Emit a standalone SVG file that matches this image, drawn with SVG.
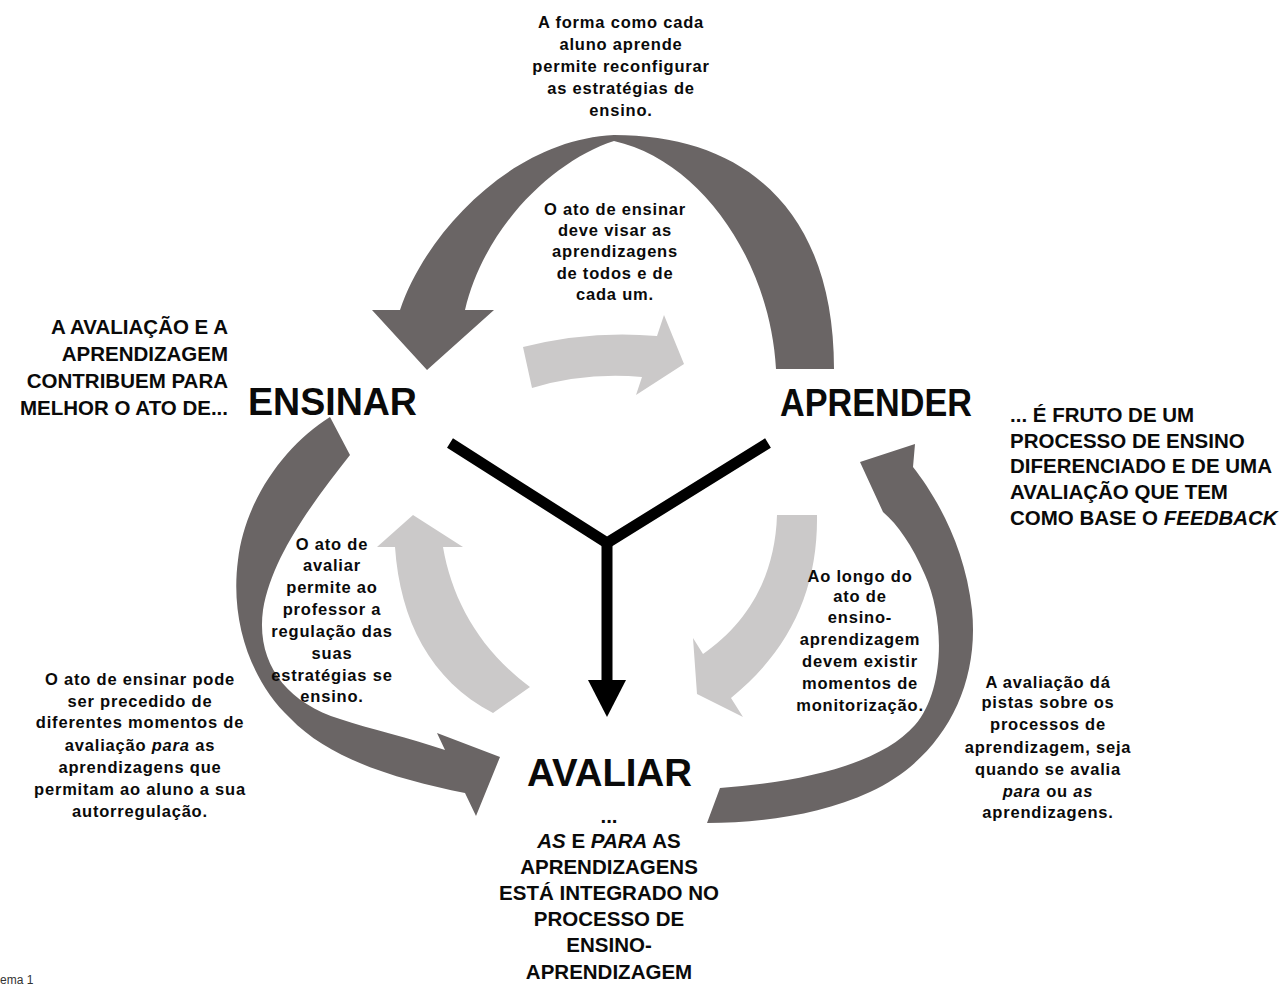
<svg xmlns="http://www.w3.org/2000/svg" width="1287" height="988" viewBox="0 0 1287 988">
<style>
.t{font-family:"Liberation Sans",Arial,sans-serif;font-weight:bold;font-size:16.5px;letter-spacing:0.8px;fill:#0a0a0a;text-anchor:middle}
.c{font-family:"Liberation Sans",Arial,sans-serif;font-weight:bold;font-size:20.5px;fill:#0a0a0a}
.big{font-family:"Liberation Sans",Arial,sans-serif;font-weight:bold;font-size:39px;fill:#0a0a0a}
.dark{fill:#6a6565}
.light{fill:#cbc9c9}
.i{font-style:italic}
</style>
<rect width="1287" height="988" fill="#fff"/>
<g id="connectors">
  <path class="dark" d="M834,369 L776,369 C770,260 700,160 614,141 C555,160 485,225 465,310 L494,310 L427,370 L372,310 L400,310 C425,235 510,140 614,135 C745,135 834,210 834,369 Z"/>
  <path class="dark" d="M330,417 L350,455 C315,500 272,555 263,610 C256,662 285,702 340,719 C370,729 410,738 445,750 L437,733 L500,757 L476,816 L465,793 C400,780 330,760 290,718 C250,680 230,620 238,560 C245,500 285,445 330,417 Z"/>
  <path class="dark" d="M707,823 L720,788 C800,782 880,765 915,725 C945,690 945,620 925,575 C912,545 898,525 883,512 L860,462 L915,444 L913,467 C935,495 965,545 972,610 C980,690 940,760 870,792 C820,815 760,823 707,823 Z"/>
  <path class="light" d="M523,347 Q590,330 657,336 L664,315 L684,364 L636,395 L642,377 Q585,372 532,388 Z"/>
  <path class="light" d="M395,547 L377,547 L413,515 L463,547 L443,547 C452,600 480,650 530,687 L493,713 C430,680 400,620 395,547 Z"/>
  <path class="light" d="M777,515 L817,515 C818,590 790,650 731,698 L743,717 L697,694 L693,638 L703,654 C745,625 775,580 777,515 Z"/>
  <g stroke="#000" stroke-width="11" fill="none" stroke-linejoin="miter">
    <polyline points="450,443 607,543 768,443"/>
    <line x1="607" y1="543" x2="607" y2="682"/>
  </g>
  <polygon points="588,680 626,680 607,717" fill="#000"/>
</g>
<g id="node-ensinar"><text class="big" x="248" y="415" textLength="169" lengthAdjust="spacingAndGlyphs">ENSINAR</text></g>
<g id="node-aprender"><text class="big" x="780" y="416" textLength="192" lengthAdjust="spacingAndGlyphs">APRENDER</text></g>
<g id="node-avaliar"><text class="big" x="527" y="786" textLength="165" lengthAdjust="spacingAndGlyphs">AVALIAR</text></g>
<g id="note-top">
  <text class="t" x="621" y="28">A forma como cada</text>
  <text class="t" x="621" y="50">aluno aprende</text>
  <text class="t" x="621" y="72">permite reconfigurar</text>
  <text class="t" x="621" y="94">as estratégias de</text>
  <text class="t" x="621" y="116">ensino.</text>
</g>
<g id="note-ensinar-aprender">
  <text class="t" x="615" y="215">O ato de ensinar</text>
  <text class="t" x="615" y="236">deve visar as</text>
  <text class="t" x="615" y="257">aprendizagens</text>
  <text class="t" x="615" y="279">de todos e de</text>
  <text class="t" x="615" y="300">cada um.</text>
</g>
<g id="note-left-caps">
  <text class="c" x="228" y="334" text-anchor="end">A AVALIAÇÃO E A</text>
  <text class="c" x="228" y="361" text-anchor="end">APRENDIZAGEM</text>
  <text class="c" x="228" y="388" text-anchor="end">CONTRIBUEM PARA</text>
  <text class="c" x="228" y="415" text-anchor="end">MELHOR O ATO DE...</text>
</g>
<g id="note-right-caps">
  <text class="c" x="1010" y="422">... É FRUTO DE UM</text>
  <text class="c" x="1010" y="448">PROCESSO DE ENSINO</text>
  <text class="c" x="1010" y="473">DIFERENCIADO E DE UMA</text>
  <text class="c" x="1010" y="499">AVALIAÇÃO QUE TEM</text>
  <text class="c" x="1010" y="525">COMO BASE O <tspan class="i">FEEDBACK</tspan></text>
</g>
<g id="note-avaliar-ensinar">
  <text class="t" x="332" y="550">O ato de</text>
  <text class="t" x="332" y="571">avaliar</text>
  <text class="t" x="332" y="593">permite ao</text>
  <text class="t" x="332" y="615">professor a</text>
  <text class="t" x="332" y="637">regulação das</text>
  <text class="t" x="332" y="659">suas</text>
  <text class="t" x="332" y="681">estratégias se</text>
  <text class="t" x="332" y="702">ensino.</text>
</g>
<g id="note-aprender-avaliar">
  <text class="t" x="860" y="582">Ao longo do</text>
  <text class="t" x="860" y="602">ato de</text>
  <text class="t" x="860" y="623">ensino-</text>
  <text class="t" x="860" y="645">aprendizagem</text>
  <text class="t" x="860" y="667">devem existir</text>
  <text class="t" x="860" y="689">momentos de</text>
  <text class="t" x="860" y="711">monitorização.</text>
</g>
<g id="note-left-bottom">
  <text class="t" x="140" y="685">O ato de ensinar pode</text>
  <text class="t" x="140" y="707">ser precedido de</text>
  <text class="t" x="140" y="728">diferentes momentos de</text>
  <text class="t" x="140" y="751">avaliação <tspan class="i">para</tspan> as</text>
  <text class="t" x="140" y="773">aprendizagens que</text>
  <text class="t" x="140" y="795">permitam ao aluno a sua</text>
  <text class="t" x="140" y="817">autorregulação.</text>
</g>
<g id="note-right-bottom">
  <text class="t" x="1048" y="688">A avaliação dá</text>
  <text class="t" x="1048" y="708">pistas sobre os</text>
  <text class="t" x="1048" y="730">processos de</text>
  <text class="t" x="1048" y="753">aprendizagem, seja</text>
  <text class="t" x="1048" y="775">quando se avalia</text>
  <text class="t" x="1048" y="797"><tspan class="i">para</tspan> ou <tspan class="i">as</tspan></text>
  <text class="t" x="1048" y="818">aprendizagens.</text>
</g>
<g id="note-bottom">
  <text class="c" x="609" y="823" text-anchor="middle">...</text>
  <text class="c" x="609" y="848" text-anchor="middle"><tspan class="i">AS</tspan> E <tspan class="i">PARA</tspan> AS</text>
  <text class="c" x="609" y="874" text-anchor="middle">APRENDIZAGENS</text>
  <text class="c" x="609" y="900" text-anchor="middle">ESTÁ INTEGRADO NO</text>
  <text class="c" x="609" y="926" text-anchor="middle">PROCESSO DE</text>
  <text class="c" x="609" y="952" text-anchor="middle">ENSINO-</text>
  <text class="c" x="609" y="979" text-anchor="middle">APRENDIZAGEM</text>
</g>
<g id="caption">
  <text x="0" y="984" font-family="Liberation Sans, Arial, sans-serif" font-size="12" fill="#333">ema 1</text>
</g>
</svg>
